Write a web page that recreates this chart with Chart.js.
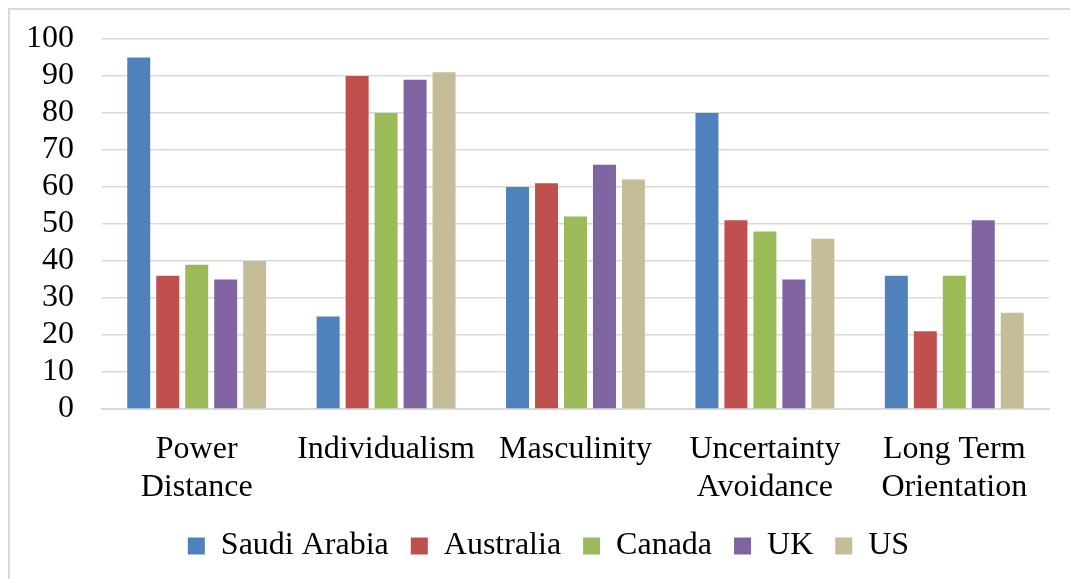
<!DOCTYPE html>
<html>
<head>
<meta charset="utf-8">
<script src="https://cdn.jsdelivr.net/npm/chart.js@4.4.1/dist/chart.umd.min.js"></script>
<style>
  html, body { margin: 0; padding: 0; background: #fff; overflow: hidden; }
  #wrap { position: relative; width: 1070px; height: 579px; }
  #frame { position: absolute; left: 8px; top: 8px; width: 1100px; height: 620px;
           border-left: 2px solid #d9d9d9; border-top: 2px solid #d9d9d9; }
  canvas { position: absolute; left: 0; top: 0; }
</style>
</head>
<body>
<div id="wrap">
  <div id="frame"></div>
  <canvas id="chart" width="1070" height="579"></canvas>
</div>
<script>
const categories = [['Power', 'Distance'], 'Individualism', 'Masculinity', ['Uncertainty', 'Avoidance'], ['Long Term', 'Orientation']]
const countries = ['Saudi Arabia', 'Australia', 'Canada', 'UK', 'US']
const saudiArabia = [95, 25, 60, 80, 36]
const australia = [36, 90, 61, 51, 21]
const canada = [39, 80, 52, 48, 36]
const uk = [35, 89, 66, 35, 51]
const us = [40, 91, 62, 46, 26]
const colors = ['#4F81BD', '#C0504D', '#9BBB59', '#8064A2', '#C4BD97']

const series = [saudiArabia, australia, canada, uk, us]
const font = { family: '"Liberation Serif", "Times New Roman", serif', size: 32 }

Chart.defaults.color = '#000'

// the original legend sits a little right of the canvas centre
const legendShift = {
  id: 'legendShift',
  afterLayout(chart) {
    chart.legend.left += 15
    chart.legend.right += 15
  }
}

const ctx = document.getElementById('chart').getContext('2d')
new Chart(ctx, {
  type: 'bar',
  data: {
    labels: categories,
    datasets: series.map((vals, i) => ({
      label: countries[i],
      data: vals,
      backgroundColor: colors[i],
      categoryPercentage: 0.765,
      barPercentage: 0.793
    }))
  },
  plugins: [legendShift],
  options: {
    responsive: false,
    animation: false,
    layout: { padding: { left: 18, right: 21, top: 39, bottom: 7 } },
    plugins: {
      tooltip: { enabled: false },
      legend: {
        position: 'bottom',
        labels: { font: font, boxWidth: 17, boxHeight: 17, padding: 22 }
      }
    },
    scales: {
      x: {
        grid: { display: false },
        border: { color: '#d9d9d9', width: 2 },
        ticks: { font: font, padding: 13, maxRotation: 0, autoSkip: false },
        // the labels need less room below them than chart.js reserves
        afterFit: (scale) => { scale.height = 99 }
      },
      y: {
        min: 0,
        max: 100,
        border: { display: false },
        grid: { color: '#d9d9d9', lineWidth: 1.5, tickLength: 20, tickColor: 'rgba(0,0,0,0)' },
        ticks: { font: font, stepSize: 10, padding: 8, autoSkip: false }
      }
    }
  }
})
</script>
</body>
</html>
